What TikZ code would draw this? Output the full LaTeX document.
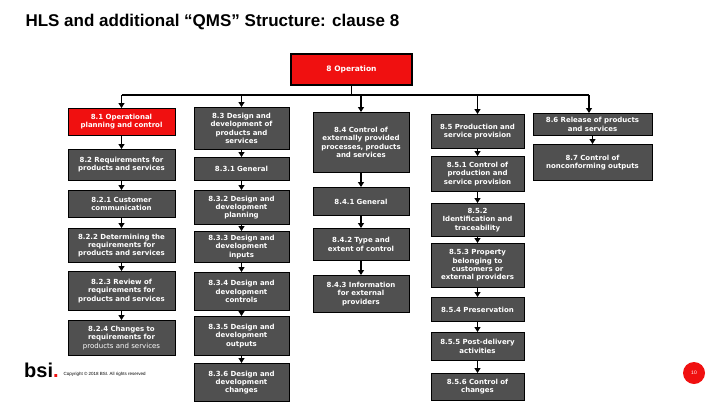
\documentclass[tikz,border=0pt]{standalone}
\usepackage{fontspec}
\setmainfont{Liberation Sans}
\newfontfamily\boxfont{DejaVu Sans}
\usetikzlibrary{arrows.meta}
\definecolor{bx}{HTML}{505050}
\definecolor{rd}{HTML}{F01010}
\begin{document}
\hyphenpenalty=10000 \exhyphenpenalty=10000
\begin{tikzpicture}[x=1pt,y=-1pt,
 box/.style={draw=black,line width=0.8pt,fill=bx,text=white,font=\boxfont\bfseries\fontsize{7}{8.3}\selectfont,inner sep=1pt,align=center,anchor=north},
 redbox/.style={box,fill=rd},
 arr/.style={line width=1.6pt,-{Triangle[length=5pt,width=6pt]}}]
\useasboundingbox (0,0) rectangle (720,405);
\node[anchor=west,font=\bfseries\fontsize{17}{19}\selectfont] (title) at (22,22) {HLS and additional “QMS” Structure: clause 8};
\node[redbox,line width=1.5pt,minimum width=121pt,minimum height=31pt,font=\boxfont\bfseries\fontsize{7.5}{9}\selectfont] (op) at (351.5,53) {8 Operation};
% column 1
\def\w{107pt}
\node[redbox,minimum width=\w,minimum height=27pt,text width=105pt] (a1) at (121.5,108) {8.1 Operational\\ planning and control};
\node[box,minimum width=\w,minimum height=31pt,text width=105pt] (a2) at (121.5,149) {8.2 Requirements for\\ products and services};
\node[box,minimum width=\w,minimum height=27pt,text width=105pt] (a3) at (121.5,190) {8.2.1 Customer\\ communication};
\node[box,minimum width=\w,minimum height=34pt,text width=105pt] (a4) at (121.5,228) {8.2.2 Determining the\\ requirements for\\ products and services};
\node[box,minimum width=\w,minimum height=39pt,text width=105pt] (a5) at (121.5,271) {8.2.3 Review of\\ requirements for\\ products and services};
\node[box,minimum width=\w,minimum height=35pt,text width=105pt] (a6) at (121.5,320) {8.2.4 Changes to\\ requirements for\\ {\mdseries products and services}};
% column 2
\node[box,minimum width=95pt,minimum height=42pt,text width=93pt] (b1) at (241.5,107) {8.3 Design and\\ development of\\ products and\\ services};
\node[box,minimum width=95pt,minimum height=23pt,text width=93pt] (b2) at (241.5,157) {8.3.1 General};
\node[box,minimum width=95pt,minimum height=34pt,text width=93pt] (b3) at (241.5,190) {8.3.2 Design and\\ development\\ planning};
\node[box,minimum width=95pt,minimum height=31pt,text width=93pt] (b4) at (241.5,231) {8.3.3 Design and\\ development\\ inputs};
\node[box,minimum width=95pt,minimum height=38pt,text width=93pt] (b5) at (241.5,272) {8.3.4 Design and\\ development\\ controls};
\node[box,minimum width=95pt,minimum height=39pt,text width=93pt] (b6) at (241.5,316) {8.3.5 Design and\\ development\\ outputs};
\node[box,minimum width=95pt,minimum height=38pt,text width=93pt] (b7) at (241.5,363) {8.3.6 Design and\\ development\\ changes};
% column 3
\node[box,minimum width=96pt,minimum height=60pt,text width=94pt] (c1) at (361,112) {8.4 Control of\\ externally provided\\ processes, products\\ and services};
\node[box,minimum width=96pt,minimum height=28pt,text width=94pt] (c2) at (361,187) {8.4.1 General};
\node[box,minimum width=96pt,minimum height=32pt,text width=94pt] (c3) at (361,228) {8.4.2 Type and\\ extent of control};
\node[box,minimum width=96pt,minimum height=37pt,text width=94pt] (c4) at (361,275) {8.4.3 Information\\ for external\\ providers};
% column 4
\node[box,minimum width=93pt,minimum height=34pt,text width=91pt] (d1) at (477.5,114) {8.5 Production and\\ service provision};
\node[box,minimum width=93pt,minimum height=35pt,text width=91pt] (d2) at (477.5,156) {8.5.1 Control of\\ production and\\ service provision};
\node[box,minimum width=93pt,minimum height=33pt,text width=91pt] (d3) at (477.5,203) {8.5.2\\ Identification and\\ traceability};
\node[box,minimum width=93pt,minimum height=44pt,text width=91pt] (d4) at (477.5,243) {8.5.3 Property\\ belonging to\\ customers or\\ external providers};
\node[box,minimum width=93pt,minimum height=24pt,text width=91pt] (d5) at (477.5,297) {8.5.4 Preservation};
\node[box,minimum width=93pt,minimum height=28pt,text width=91pt] (d6) at (477.5,332) {8.5.5 Post-delivery\\ activities};
\node[box,minimum width=93pt,minimum height=27pt,text width=91pt] (d7) at (477.5,373) {8.5.6 Control of\\ changes};
% column 5
\node[box,minimum width=119pt,minimum height=22pt,text width=117pt] (e1) at (592.5,113) {8.6 Release of products\\ and services};
\node[box,minimum width=119pt,minimum height=36pt,text width=117pt] (e2) at (592.5,144) {8.7 Control of\\ nonconforming outputs};
% bus
\coordinate (j) at (351.5,95);
\coordinate (t1) at (121.5,95);
\coordinate (t2) at (241.5,95);
\coordinate (t3) at (361,95);
\coordinate (t4) at (477.5,95);
\coordinate (t5) at (589,95);
\draw[line width=1.6pt] (op.south) -- (j);
\draw[line width=1.6pt] (t1) -- (t5);
\draw[arr] (t1) -- (a1.north);
\draw[arr] (t2) -- (b1.north);
\draw[arr] (t3) -- (c1.north);
\draw[arr] (t4) -- (d1.north);
\draw[arr] (t5) -- (t5 |- e1.north);
\foreach \p/\q in {a1/a2,a2/a3,a3/a4,a4/a5,a5/a6,b1/b2,b2/b3,b3/b4,b4/b5,b5/b6,b6/b7,c1/c2,c2/c3,c3/c4,d1/d2,d2/d3,d3/d4,d4/d5,d5/d6,d6/d7,e1/e2}
  \draw[arr] (\p.south) -- (\q.north);
% footer
\node[anchor=west,font=\bfseries\fontsize{20}{20}\selectfont,inner sep=0pt] (bsi) at (24,370) {bsi\textcolor{rd}{.}};
\node[anchor=west,font=\fontsize{4.5}{5}\selectfont] (copy) at (60,374) {Copyright © 2018 BSI. All rights reserved};
\node[circle,fill=rd,text=white,minimum size=22pt,inner sep=0pt,font=\fontsize{5}{5}\selectfont] (pg) at (694,373) {10};
\end{tikzpicture}
\end{document}
